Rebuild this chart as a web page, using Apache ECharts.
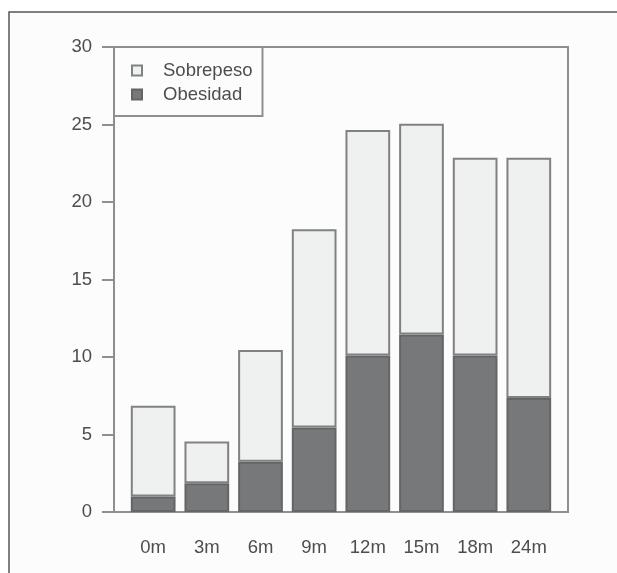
<!DOCTYPE html>
<html>
<head>
<meta charset="utf-8">
<script src="https://cdn.jsdelivr.net/npm/echarts@6/dist/echarts.min.js"></script>
<style>
html,body{margin:0;padding:0;background:#ffffff;}
#chart{width:617px;height:573px;}
</style>
</head>
<body>
<div id="chart"></div>
<script>
const categories = ['0m', '3m', '6m', '9m', '12m', '15m', '18m', '24m'];
const obesidad = [1.0, 1.85, 3.25, 5.45, 10.1, 11.45, 10.1, 7.35];
const sobrepeso = [5.85, 2.7, 7.2, 12.8, 14.55, 13.6, 12.75, 15.5];
const yTicks = [0, 5, 10, 15, 20, 25, 30];

const FONT = 'Liberation Sans';
const TXT = '#4d4d4d';
const LINE = '#8f8f8f';
const FS = 18.5;

const chart = echarts.init(document.getElementById('chart'), null, {renderer: 'canvas'});
chart.setOption({
  backgroundColor: '#ffffff',
  animation: false,
  graphic: [
    {type: 'rect', shape: {x: 9, y: 12, width: 620, height: 570}, style: {fill: '#fcfcfc', stroke: null}, z: -10, silent: true},
    {type: 'polyline', shape: {points: [[9, 573], [9, 12], [617, 12]]}, style: {stroke: '#555555', lineWidth: 1.5, fill: null}, z: -9, silent: true}
  ],
  legend: {
    orient: 'vertical',
    left: 114,
    top: 47,
    padding: [14, 10, 12, 17],
    itemGap: 5,
    itemWidth: 10,
    itemHeight: 10,
    icon: 'rect',
    borderColor: LINE,
    borderWidth: 2,
    backgroundColor: '#fcfcfc',
    data: ['Sobrepeso', 'Obesidad'],
    textStyle: {fontFamily: FONT, fontSize: FS, color: TXT, lineHeight: 17, padding: [0, 0, 0, 16]}
  },
  grid: [
    {left: 126.34, width: 429.3, top: 47, height: 465, containLabel: false},
    {left: 114, width: 454, top: 47, height: 465, show: true, borderColor: LINE, borderWidth: 2, backgroundColor: 'transparent', z: 0}
  ],
  xAxis: [
    {
      type: 'category', gridIndex: 0, data: categories, boundaryGap: true,
      axisLine: {show: false}, axisTick: {show: false},
      axisLabel: {margin: 26, fontFamily: FONT, fontSize: FS, color: TXT}
    },
    {type: 'value', gridIndex: 1, show: false, min: 0, max: 1}
  ],
  yAxis: [
    {type: 'value', gridIndex: 0, min: 0, max: 30, interval: 5, show: false},
    {
      type: 'value', gridIndex: 1, min: 0, max: 30, interval: 5,
      axisLine: {show: true, lineStyle: {color: LINE, width: 2}},
      axisTick: {show: true, length: 12, lineStyle: {color: LINE, width: 2}},
      axisLabel: {margin: 22, fontFamily: FONT, fontSize: FS, color: TXT,
        formatter: v => (yTicks.indexOf(v) >= 0 ? String(v) : '')},
      splitLine: {show: false}
    }
  ],
  series: [
    {
      name: 'Obesidad', type: 'bar', stack: 'total', xAxisIndex: 0, yAxisIndex: 0,
      data: obesidad, barCategoryGap: '16.67%',
      itemStyle: {color: '#77787a', borderColor: '#646567', borderWidth: 2}
    },
    {
      name: 'Sobrepeso', type: 'bar', stack: 'total', xAxisIndex: 0, yAxisIndex: 0,
      data: sobrepeso, barCategoryGap: '16.67%',
      itemStyle: {color: '#eff0f0', borderColor: '#808183', borderWidth: 2}
    }
  ]
});
</script>
</body>
</html>
